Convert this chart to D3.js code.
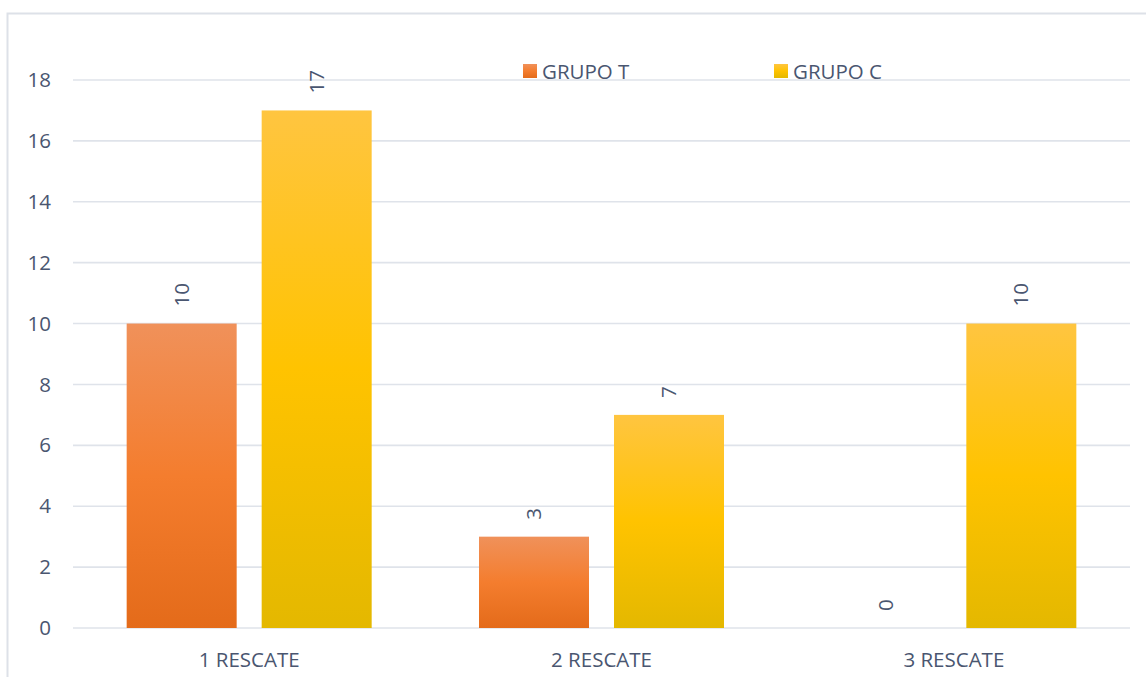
<!DOCTYPE html>
<html><head><meta charset="utf-8">
<script src="https://cdn.jsdelivr.net/npm/d3@7"></script>
<style>body{margin:0;background:#fff}svg{display:block}text{font-family:"Open Sans",sans-serif}</style>
</head><body>
<svg id="chart" width="1146" height="677"></svg>
<script>
const categories = ["1 RESCATE", "2 RESCATE", "3 RESCATE"];
const seriesNames = ["GRUPO T", "GRUPO C"];
const grupoT = [10, 3, 0];
const grupoC = [17, 7, 10];
const yTicks = [0, 2, 4, 6, 8, 10, 12, 14, 16, 18];

const W = 1146, H = 677;
const margin = {left: 73, right: 16, top: 80, bottom: 49};
const svg = d3.select("#chart");
const textColor = "#4a5670";
const fs = "20.5px";

// chart frame
svg.append("rect").attr("x", 7.5).attr("y", 13.5).attr("width", W + 10).attr("height", H + 10)
  .attr("fill", "none").attr("stroke", "#dde1e8").attr("stroke-width", 2);

const x0 = d3.scaleBand().domain(categories).range([margin.left, W - margin.right]).paddingInner(0).paddingOuter(0);
const barW = 110, gap = 25;
const y = d3.scaleLinear().domain([0, 18]).range([H - margin.bottom, margin.top]);

// gridlines
svg.append("g").selectAll("line").data(yTicks).join("line")
  .attr("x1", margin.left).attr("x2", W - margin.right)
  .attr("y1", d => y(d)).attr("y2", d => y(d))
  .attr("stroke", "#dfe3ea").attr("stroke-width", 1.6);

// y axis labels
const yAxis = d3.axisLeft(y).tickValues(yTicks).tickSize(0).tickPadding(0);
const gy = svg.append("g").attr("transform", `translate(51,0)`).call(yAxis);
gy.select(".domain").remove();
gy.selectAll("text").attr("fill", textColor).style("font-size", fs).style("font-family", '"Open Sans",sans-serif');

// x axis labels
const xAxis = d3.axisBottom(x0).tickSize(0).tickPadding(0);
const gx = svg.append("g").attr("transform", `translate(0,${y(0) + 24})`).call(xAxis);
gx.select(".domain").remove();
gx.selectAll("text").attr("fill", textColor).style("font-size", fs).style("font-family", '"Open Sans",sans-serif');

// gradients
const defs = svg.append("defs");
const gradT = defs.append("linearGradient").attr("id", "gT").attr("x1", 0).attr("y1", 0).attr("x2", 0).attr("y2", 1);
gradT.append("stop").attr("offset", "0%").attr("stop-color", "#f0915a");
gradT.append("stop").attr("offset", "50%").attr("stop-color", "#f47d2e");
gradT.append("stop").attr("offset", "100%").attr("stop-color", "#e46b1a");
const gradC = defs.append("linearGradient").attr("id", "gC").attr("x1", 0).attr("y1", 0).attr("x2", 0).attr("y2", 1);
gradC.append("stop").attr("offset", "0%").attr("stop-color", "#ffc540");
gradC.append("stop").attr("offset", "50%").attr("stop-color", "#ffc300");
gradC.append("stop").attr("offset", "100%").attr("stop-color", "#e4b800");

const series = [
  {name: seriesNames[0], values: grupoT, fill: "url(#gT)", off: -(barW + gap) / 2},
  {name: seriesNames[1], values: grupoC, fill: "url(#gC)", off: (barW + gap) / 2}
];

series.forEach(s => {
  const g = svg.append("g");
  const cx = (c) => x0(c) + x0.bandwidth() / 2 + s.off;
  g.selectAll("rect").data(categories).join("rect")
    .attr("x", (c) => cx(c) - barW / 2)
    .attr("y", (c, i) => y(s.values[i]))
    .attr("width", barW)
    .attr("height", (c, i) => y(0) - y(s.values[i]))
    .attr("fill", s.fill);
  g.selectAll("text").data(categories).join("text")
    .attr("transform", (c, i) => `translate(${cx(c) + 7},${y(s.values[i]) - 17}) rotate(-90)`)
    .attr("text-anchor", "start")
    .attr("fill", textColor)
    .style("font-size", fs)
    .text((c, i) => s.values[i]);
});

// legend
const legendX = [523, 774];
series.forEach((s, i) => {
  const lg = svg.append("g").attr("transform", `translate(${legendX[i]},64)`);
  lg.append("rect").attr("width", 14).attr("height", 14).attr("fill", s.fill);
  lg.append("text").attr("x", 19).attr("y", 14.5).attr("fill", textColor).style("font-size", fs).text(s.name);
});
</script>
</body></html>
